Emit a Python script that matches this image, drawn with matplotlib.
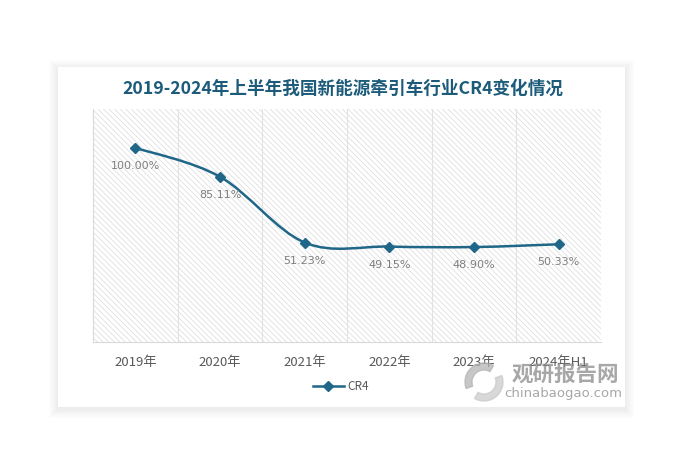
import matplotlib.pyplot as plt
from matplotlib.patches import Rectangle, PathPatch, Wedge
from matplotlib.path import Path
import numpy as np

# 数据
years = ['2019年', '2020年', '2021年', '2022年', '2023年', '2024年H1']
cr4 = [100.00, 85.11, 51.23, 49.15, 48.90, 50.33]
labels = ['100.00%', '85.11%', '51.23%', '49.15%', '48.90%', '50.33%']

plt.rcParams['font.family'] = ['Noto Sans CJK SC', 'DejaVu Sans']
plt.rcParams['hatch.linewidth'] = 0.5
plt.rcParams['hatch.color'] = '#dadada'

line_color = '#1f6688'

fig = plt.figure(figsize=(6.91, 4.75), dpi=100)
fig.patch.set_facecolor('white')

# 卡片阴影 + 卡片
W, H = 691, 475
cx0, cy0, cx1, cy1 = 58, 67, 625, 407
for i in range(9, 0, -1):
    fig.patches.append(Rectangle(((cx0 - i) / W, 1 - (cy1 + i + 2) / H), (cx1 - cx0 + 2 * i) / W,
                                 (cy1 - cy0 + 2 * i) / H, transform=fig.transFigure,
                                 facecolor='#000000', alpha=0.007, edgecolor='none', zorder=-2))
fig.patches.append(Rectangle((cx0 / W, 1 - cy1 / H), (cx1 - cx0) / W, (cy1 - cy0) / H,
                             transform=fig.transFigure, facecolor='white', edgecolor='none', zorder=-1))

fig.text(343 / W, 1 - 89 / H, '2019-2024年上半年我国新能源牵引车行业CR4变化情况',
         ha='center', va='center', fontsize=12.7, fontweight='bold', color='#1c5b7a')

ax = fig.add_axes([93 / W, 1 - 342 / H, 508 / W, 233 / H])
ax.set_facecolor('white')
x = np.arange(len(years))
ax.set_xlim(-0.5, len(years) - 0.5)
ax.set_ylim(0, 120)

# 斜线底纹
ax.add_patch(Rectangle((0, 0), 1, 1, transform=ax.transAxes, facecolor='none',
                       edgecolor='#dadada', hatch='\\\\\\\\\\\\', linewidth=0, zorder=0))
for xv in np.arange(0.5, len(years) - 0.5):
    ax.axvline(xv, color='#e2e2e2', linewidth=0.8, zorder=1)

# 平滑曲线 (Bezier)
pts = np.column_stack([x, cr4]).astype(float)
verts = [tuple(pts[0])]
codes = [Path.MOVETO]
n = len(pts)
for i in range(n - 1):
    p0 = pts[max(i - 1, 0)]
    p1 = pts[i]
    p2 = pts[i + 1]
    p3 = pts[min(i + 2, n - 1)]
    c1 = p1 + (p2 - p0) / 6
    c2 = p2 - (p3 - p1) / 6
    verts += [tuple(c1), tuple(c2), tuple(p2)]
    codes += [Path.CURVE4] * 3
ax.add_patch(PathPatch(Path(verts, codes), facecolor='none', edgecolor=line_color,
                       linewidth=1.8, zorder=3))
ax.plot(x, cr4, linestyle='none', marker='D', markersize=5, color=line_color, zorder=4)
ax.plot([], [], color=line_color, marker='D', markersize=5, linewidth=1.8, label='CR4')

for xi, yi, t in zip(x, cr4, labels):
    ax.annotate(t, (xi, yi), xytext=(0, -13), textcoords='offset points', ha='center',
                va='center', fontsize=8, color='#7f7f7f', family=['DejaVu Sans'])

ax.set_xticks(x)
ax.set_xticklabels(years, fontsize=9.5, color='#595959')
ax.tick_params(axis='x', length=0, pad=10)
ax.set_yticks([])
for k in ['top', 'right']:
    ax.spines[k].set_visible(False)
for k in ['left', 'bottom']:
    ax.spines[k].set_color('#d9d9d9')
    ax.spines[k].set_linewidth(0.8)

leg = ax.legend(loc='center', bbox_to_anchor=(341 / W, 1 - 387 / H), bbox_transform=fig.transFigure,
                frameon=False, fontsize=8.5, handlelength=2.6, handletextpad=0.3)
for t in leg.get_texts():
    t.set_color('#595959')

# 水印
lax = fig.add_axes([462 / W, 1 - 402 / H, 44 / W, 40 / H])
lax.set_xlim(-1.1, 1.1)
lax.set_ylim(-1, 1)
lax.axis('off')
lax.add_patch(Wedge((0, 0), 0.95, 60, 200, width=0.35, color='#b0b0b0', alpha=0.7))
lax.add_patch(Wedge((0, 0), 0.95, 240, 380, width=0.35, color='#c8c8c8', alpha=0.7))
fig.text(565 / W, 1 - 374 / H, '观研报告网', ha='center', va='center', fontsize=15.5,
         fontweight='bold', color='#8a8a8a', alpha=0.75)
fig.text(563 / W, 1 - 393 / H, 'chinabaogao.com', ha='center', va='center', fontsize=9.5,
         color='#8a8a8a', alpha=0.75, family=['DejaVu Sans'])

fig.savefig('out.png', dpi=100)
